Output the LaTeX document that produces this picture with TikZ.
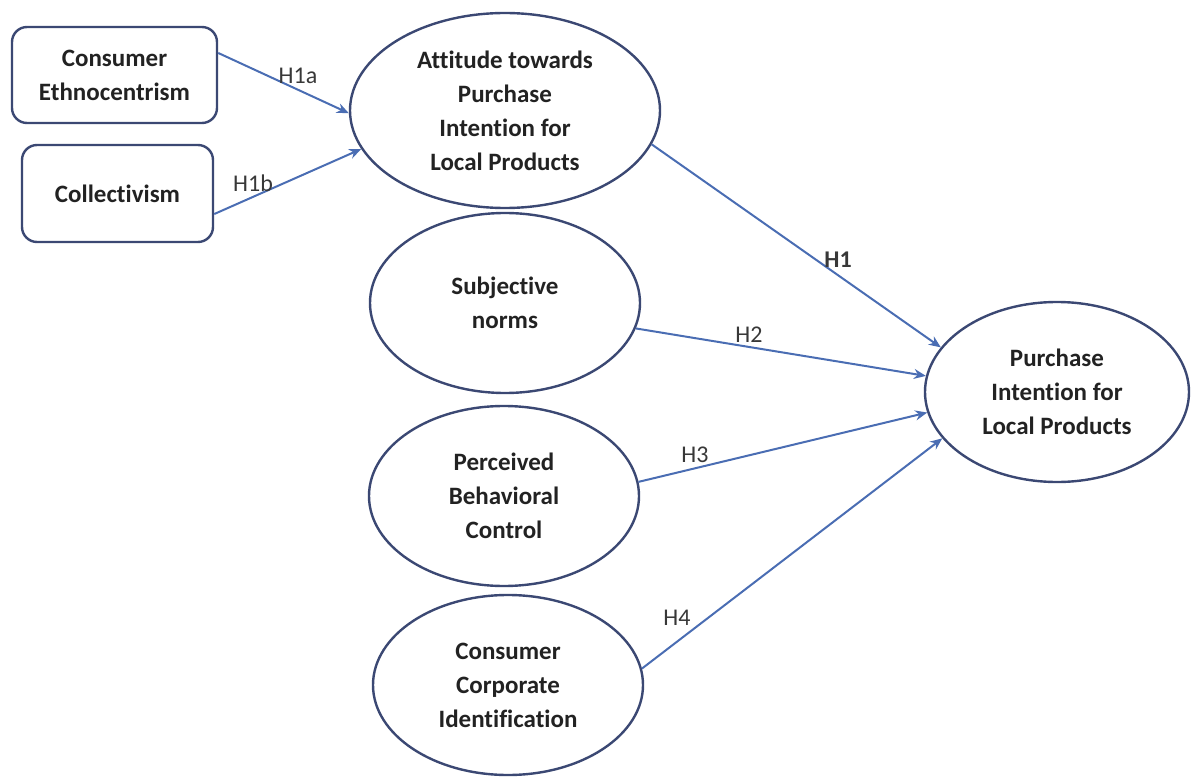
\documentclass[tikz,border=0pt]{standalone}
\usepackage{fontspec}
\setmainfont{Carlito}[Ligatures=NoCommon]
\usetikzlibrary{shapes.geometric,arrows.meta}
\definecolor{edge}{HTML}{3B4873}
\definecolor{link}{HTML}{4A6DB3}
\definecolor{ink}{HTML}{222222}
\tikzset{
  box/.style={draw=edge, line width=2.4pt, rounded corners=15pt, align=center,
    text=ink, font=\fontsize{25}{34}\selectfont\bfseries, inner sep=0pt},
  oval/.style={draw=edge, line width=2.4pt, ellipse, align=center,
    text=ink, font=\fontsize{25}{34}\selectfont\bfseries, inner sep=0pt},
  link/.style={draw=link, line width=2pt, -{Stealth[length=12pt,width=10pt]}},
  hyp/.style={font=\fontsize{24}{28}\selectfont, text=ink!90, inner sep=0pt}
}
\begin{document}
\begin{tikzpicture}[x=1pt,y=-1pt]
\useasboundingbox (0,0) rectangle (1194,778);
% exogenous constructs
\node[box, minimum width=205pt, minimum height=96pt] (ce) at (114.5,75) {Consumer\\Ethnocentrism};
\node[box, minimum width=191pt, minimum height=97pt] (co) at (117.5,193.5) {Collectivism};
% mediating and predictor constructs
\node[oval, minimum width=310pt, minimum height=195pt] (att) at (505,110.5) {Attitude towards\\Purchase\\Intention for\\Local Products};
\node[oval, minimum width=270pt, minimum height=180pt] (sn) at (505,303) {Subjective\\norms};
\node[oval, minimum width=270pt, minimum height=180pt] (pbc) at (504,496) {Perceived\\Behavioral\\Control};
\node[oval, minimum width=270pt, minimum height=180pt] (cci) at (508,685) {Consumer\\Corporate\\Identification};
% outcome
\node[oval, minimum width=264pt, minimum height=180pt] (pi) at (1057,392) {Purchase\\Intention for\\Local Products};
% hypothesised paths
\draw[link] (ce.12.6) -- (att.181);
\draw[link] (co.-12.7) -- (att.195.7);
\draw[link] (att.-13.1) -- (pi.159.7);
\draw[link] (sn.-11.7) -- (pi.173.9);
\draw[link] (pbc.6.4) -- (pi.189.2);
\draw[link] (cci.7.7) -- (pi.202.6);
% path labels
\node[hyp] (l1a) at (298,76) {H1a};
\node[hyp] (l1b) at (253,183) {H1b};
\node[hyp, font=\fontsize{24}{28}\selectfont\bfseries] (l1) at (838,260) {H1};
\node[hyp] (l2) at (749,335) {H2};
\node[hyp] (l3) at (695,455) {H3};
\node[hyp] (l4) at (677,618) {H4};
\end{tikzpicture}
\end{document}
